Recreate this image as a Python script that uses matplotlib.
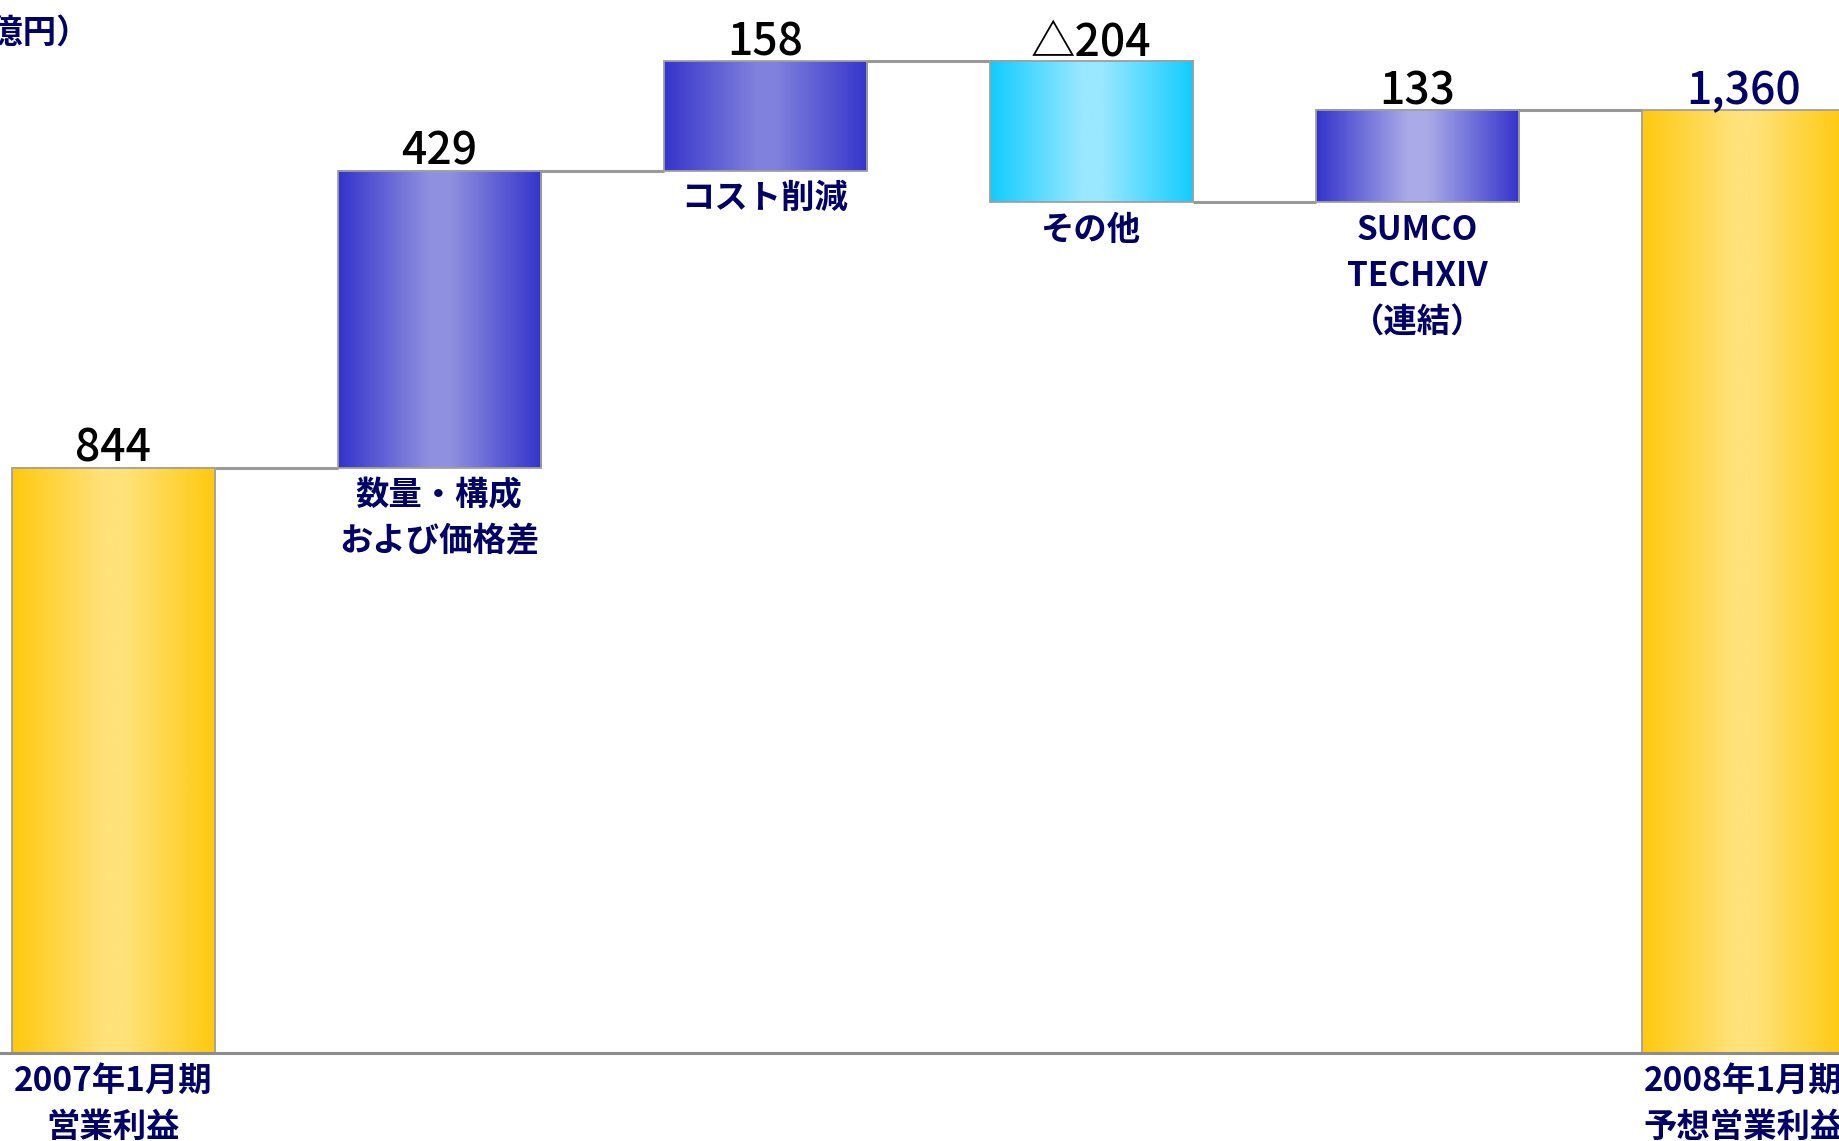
import numpy as np
import matplotlib
matplotlib.use("Agg")
import matplotlib.pyplot as plt
from matplotlib.colors import LinearSegmentedColormap
from matplotlib.patches import Rectangle

plt.rcParams['font.family'] = ['Noto Sans CJK JP', 'DejaVu Sans']

# ---- data ----
categories = ["2007年1月期\n営業利益", "数量・構成\nおよび価格差", "コスト削減",
              "その他", "SUMCO\nTECHXIV\n（連結）", "2008年1月期\n予想営業利益"]
values = [844, 429, 158, -204, 133, 1360]
kinds = ["total", "delta", "delta", "delta", "delta", "total"]
value_labels = ["844", "429", "158", "△204", "133", "1,360"]
unit_label = "（億円）"

# ---- style ----
NAVY = "#000066"
edge_cols = ["#FFC90E", "#3333CC", "#3535CC", "#10CCFF", "#3333CC", "#FFC90E"]
center_cols = ["#FFE27A", "#9090E0", "#8080DD", "#99E8FF", "#AAAAE8", "#FFE27A"]
label_cols = ["black", "black", "black", "black", "black", NAVY]

fig = plt.figure(figsize=(18.39, 11.41), dpi=100)
ax = fig.add_axes([0, 0, 1, 1])
ax.set_axis_off()

x = np.arange(len(values))
w = 0.623

bottoms, tops = [], []
level = 0
for v, k in zip(values, kinds):
    if k == "total":
        b, t = 0, v
        level = v
    else:
        b, t = (level, level + v) if v >= 0 else (level + v, level)
        level = level + v
    bottoms.append(b)
    tops.append(t)

grad = np.linspace(0, 1, 256)[np.newaxis, :]
for i in range(len(values)):
    cmap = LinearSegmentedColormap.from_list(
        f"g{i}", [(0, edge_cols[i]), (0.45, center_cols[i]), (0.55, center_cols[i]), (1, edge_cols[i])])
    ax.imshow(grad, extent=(x[i] - w / 2, x[i] + w / 2, bottoms[i], tops[i]),
              aspect='auto', cmap=cmap, zorder=2, interpolation='bilinear')
    ax.add_patch(Rectangle((x[i] - w / 2, bottoms[i]), w, tops[i] - bottoms[i],
                           fill=False, edgecolor="#A0A0A0", lw=1.3, zorder=3))

# connectors
for i in range(len(values) - 1):
    lvl = tops[i] if (kinds[i] == "total" or values[i] >= 0) else bottoms[i]
    ax.plot([x[i] + w / 2, x[i + 1] - w / 2], [lvl, lvl], color="#999999", lw=2.2,
            zorder=1, solid_capstyle='butt')

# baseline
ax.axhline(0, color="#8C8C8C", lw=2.2, zorder=4)

# value labels
for i in range(len(values)):
    ax.annotate(value_labels[i], (x[i], tops[i]), xytext=(0, 6), textcoords='offset pixels',
                ha='center', va='baseline', fontsize=32, color=label_cols[i], zorder=5,
                fontweight='medium')

# category labels
line_gap = 46
for i, cat in enumerate(categories):
    lines = cat.split("\n")
    for j, ln in enumerate(lines):
        ax.annotate(ln, (x[i], bottoms[i]), xytext=(0, -28 - j * line_gap),
                    textcoords='offset pixels', ha='center', va='center',
                    fontsize=24, fontweight='bold', color=NAVY, zorder=5)

fig.text(90 / 1839, 1 - 33 / 1141, unit_label, ha='right', va='center',
         fontsize=24, fontweight='bold', color=NAVY)

ax.set_xlim(-0.347, 5.294)
ax.set_ylim(-127, 1519)

fig.savefig("out.png", dpi=100)
